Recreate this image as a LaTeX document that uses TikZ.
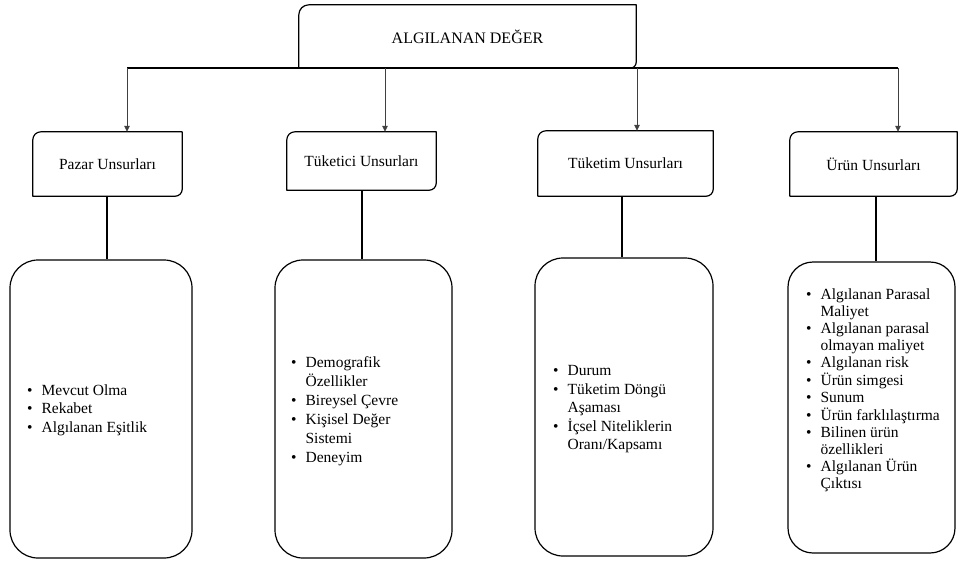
\documentclass[tikz,border=0pt]{standalone}
\usepackage{fontspec}
\setmainfont{Liberation Serif}
\usetikzlibrary{arrows.meta}

% frame with a rounded top-left and a rounded bottom-right corner
\newcommand\diagframe[3]{%
  \draw[frame] (#1.south west) -- ([yshift=-#2]#1.north west)
    arc[start angle=180,end angle=90,radius=#2] -- (#1.north east)
    -- ([yshift=#3]#1.south east)
    arc[start angle=0,end angle=-90,radius=#3] -- cycle;}

% bulleted list set as a two-column tabular
\newcommand\blist[2]{{\fontsize{15.5}{#1}\selectfont
  \begin{tabular}{@{}l@{\hspace{9pt}}l@{}}#2\end{tabular}}}

\tikzset{
  frame/.style={line width=1.2pt, line join=round},
  hdr/.style={inner sep=0pt, font=\fontsize{15.5}{18}\selectfont},
  bigbox/.style={draw, line width=1.2pt, rectangle, rounded corners=28pt, inner sep=0pt},
  listtext/.style={inner sep=0pt, anchor=west},
  link/.style={line width=1.1pt},
  arr/.style={line width=0.8pt, draw=black!75, -{Triangle[length=6pt,width=5.5pt]}}
}

\begin{document}
\begin{tikzpicture}[x=1pt,y=1pt]
\useasboundingbox (0,0) rectangle (958,-563);

% root box
\node[hdr, font=\fontsize{16}{18}\selectfont, minimum width=337pt, minimum height=63pt]
  (root) at (467.5,-36.5) {ALGILANAN DEĞER};
\diagframe{root}{10pt}{6pt}

% horizontal bus
\coordinate (b1) at (127,-68);
\coordinate (b2) at (385,-68);
\coordinate (b3) at (637,-68);
\coordinate (b4) at (898,-68);
\draw[link] (b1) -- (b4);

% headers
\node[hdr, minimum width=149pt, minimum height=64pt] (h1) at (107.5,-164) {Pazar Unsurları};
\node[hdr, minimum width=149pt, minimum height=58pt] (h2) at (361.5,-161) {Tüketici Unsurları};
\node[hdr, minimum width=175pt, minimum height=65pt] (h3) at (625.5,-163.5) {Tüketim Unsurları};
\node[hdr, minimum width=167pt, minimum height=64pt] (h4) at (873.5,-164) {Ürün Unsurları};
\diagframe{h1}{8pt}{7pt}
\diagframe{h2}{8pt}{7pt}
\diagframe{h3}{8pt}{7pt}
\diagframe{h4}{8pt}{7pt}

\draw[arr] (b1) -- (b1 |- h1.north);
\draw[arr] (b2) -- (b2 |- h2.north);
\draw[arr] (b3) -- (b3 |- h3.north);
\draw[arr] (b4) -- (b4 |- h4.north);

% detail boxes
\node[bigbox, minimum width=182pt, minimum height=298pt] (d1) at (101,-409) {};
\node[bigbox, minimum width=177pt, minimum height=298pt] (d2) at (363.5,-409) {};
\node[bigbox, minimum width=178pt, minimum height=298pt] (d3) at (624,-407) {};
\node[bigbox, rounded corners=25pt, minimum width=167pt, minimum height=291pt] (d4) at (871.5,-407.5) {};

\coordinate (c1) at (107,0);
\coordinate (c2) at (362,0);
\coordinate (c3) at (622,0);
\coordinate (c4) at (876,0);
\draw[link] (c1 |- h1.south) -- (c1 |- d1.north);
\draw[link] (c2 |- h2.south) -- (c2 |- d2.north);
\draw[link] (c3 |- h3.south) -- (c3 |- d3.north);
\draw[link] (c4 |- h4.south) -- (c4 |- d4.north);

% lists
\node[listtext] (l1) at (27,-410) {\blist{18.5pt}{%
  \textbullet & Mevcut Olma\\
  \textbullet & Rekabet\\
  \textbullet & Algılanan Eşitlik}};
\node[listtext] (l2) at (291,-411) {\blist{19pt}{%
  \textbullet & Demografik\\
              & Özellikler\\
  \textbullet & Bireysel Çevre\\
  \textbullet & Kişisel Değer\\
              & Sistemi\\
  \textbullet & Deneyim}};
\node[listtext] (l3) at (553,-409) {\blist{18.5pt}{%
  \textbullet & Durum\\
  \textbullet & Tüketim Döngü\\
              & Aşaması\\
  \textbullet & İçsel Niteliklerin\\
              & Oranı/Kapsamı}};
\node[listtext] (l4) at (806,-391) {\blist{17pt}{%
  \textbullet & Algılanan Parasal\\
              & Maliyet\\
  \textbullet & Algılanan parasal\\
              & olmayan maliyet\\
  \textbullet & Algılanan risk\\
  \textbullet & Ürün simgesi\\
  \textbullet & Sunum\\
  \textbullet & Ürün farklılaştırma\\
  \textbullet & Bilinen ürün\\
              & özellikleri\\
  \textbullet & Algılanan Ürün\\
              & Çıktısı}};
\end{tikzpicture}
\end{document}
